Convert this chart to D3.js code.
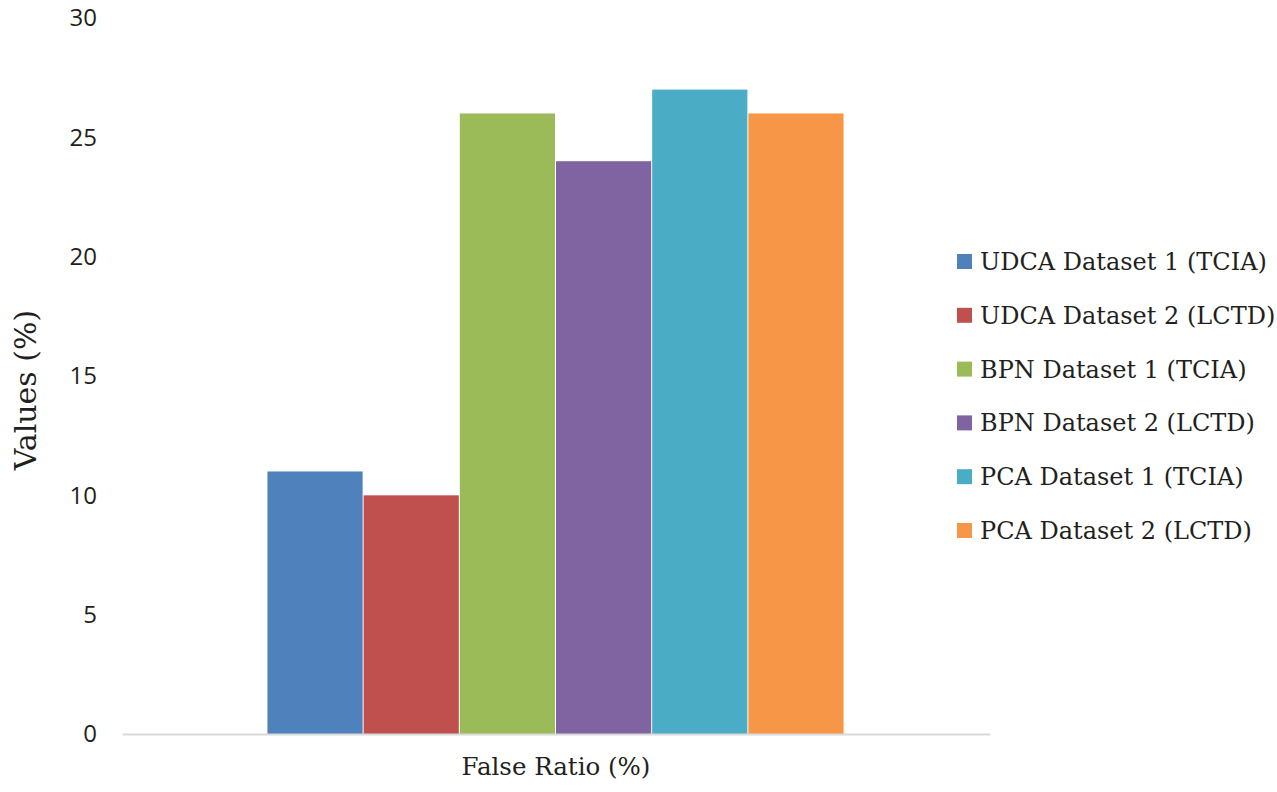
<!DOCTYPE html>
<html>
<head>
<meta charset="utf-8">
<script src="https://cdn.jsdelivr.net/npm/d3@7"></script>
<style>
  body { margin: 0; background: #fff; }
  text { fill: #231f20; }
</style>
</head>
<body>
<svg id="chart" width="1277" height="792"></svg>
<script>
var categories = ["False Ratio (%)"];
var seriesNames = ["UDCA Dataset 1 (TCIA)", "UDCA Dataset 2 (LCTD)", "BPN Dataset 1 (TCIA)",
                   "BPN Dataset 2 (LCTD)", "PCA Dataset 1 (TCIA)", "PCA Dataset 2 (LCTD)"];
var seriesValues = [11, 10, 26, 24, 27, 26];
var seriesColors = ["#4F81BD", "#C0504D", "#9BBB59", "#8064A2", "#4BACC6", "#F79646"];
var yTicks = [0, 5, 10, 15, 20, 25, 30];

var svg = d3.select("#chart");
var plotLeft = 122, plotRight = 990, plotTop = 18, plotBottom = 734;

var y = d3.scaleLinear().domain([0, 30]).range([plotBottom, plotTop]);
var x0 = d3.scaleBand().domain(categories).range([plotLeft, plotRight]).paddingOuter(0.252).paddingInner(0);
var x1 = d3.scaleBand().domain(seriesNames).range([0, x0.bandwidth()]).padding(0);

// y tick labels (no axis line)
var yAxis = d3.axisLeft(y).tickValues(yTicks).tickSize(0).tickPadding(0);
var gy = svg.append("g").attr("transform", "translate(97,0)").call(yAxis);
gy.select(".domain").remove();
gy.selectAll("text")
  .attr("font-family", "'Open Sans', sans-serif")
  .attr("font-size", 24)
  .attr("fill", "#231f20");

// bars
var g = svg.append("g");
categories.forEach(function(c) {
  g.selectAll("rect.bar")
    .data(seriesValues)
    .enter().append("rect")
    .attr("class", "bar")
    .attr("x", function(d, i) { return x0(c) + x1(seriesNames[i]); })
    .attr("width", x1.bandwidth() - 1)
    .attr("y", function(d) { return y(d); })
    .attr("height", function(d) { return plotBottom - y(d); })
    .attr("fill", function(d, i) { return seriesColors[i]; });
});

// x axis
var xAxis = d3.axisBottom(x0).tickSize(0).tickPadding(24);
var gx = svg.append("g").attr("transform", "translate(0," + plotBottom + ")").call(xAxis);
gx.select(".domain").attr("stroke", "#d9d9d9").attr("stroke-width", 2);
gx.selectAll("text")
  .attr("font-family", "'DejaVu Serif', serif")
  .attr("font-size", 24.5)
  .attr("fill", "#231f20");

// y title
svg.append("text")
  .attr("transform", "translate(36,390) rotate(-90)")
  .attr("text-anchor", "middle")
  .attr("font-family", "'DejaVu Serif', serif")
  .attr("font-size", 30)
  .text("Values (%)");

// legend
var legend = svg.append("g").selectAll("g")
  .data(seriesNames)
  .enter().append("g")
  .attr("transform", function(d, i) { return "translate(957," + (262 + i * 53.8) + ")"; });
legend.append("rect")
  .attr("x", 0).attr("y", -8).attr("width", 15).attr("height", 15)
  .attr("fill", function(d, i) { return seriesColors[i]; });
legend.append("text")
  .attr("x", 23).attr("y", 8)
  .attr("font-family", "'DejaVu Serif', serif")
  .attr("font-size", 24)
  .text(function(d) { return d; });
</script>
</body>
</html>
